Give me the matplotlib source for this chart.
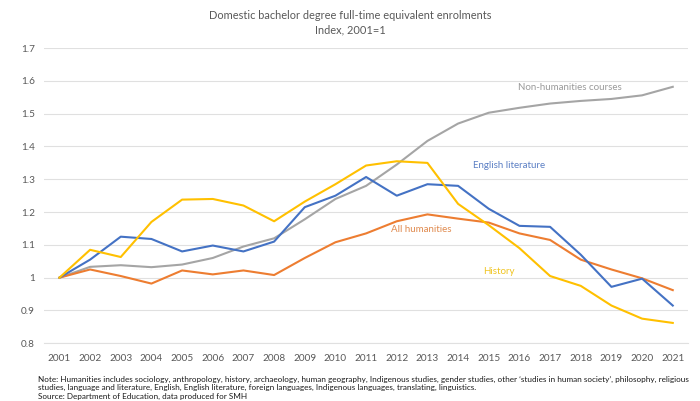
import matplotlib.pyplot as plt

years = list(range(2001, 2022))

english_lit = [1.0, 1.055, 1.125, 1.118, 1.08, 1.098, 1.08, 1.11, 1.215, 1.25, 1.307,
               1.25, 1.285, 1.28, 1.21, 1.158, 1.155, 1.07, 0.972, 0.997, 0.915]
history = [1.0, 1.085, 1.063, 1.17, 1.238, 1.24, 1.22, 1.172, 1.232, 1.285, 1.342,
           1.355, 1.35, 1.225, 1.16, 1.09, 1.005, 0.975, 0.915, 0.875, 0.862]
all_humanities = [1.0, 1.025, 1.005, 0.982, 1.022, 1.01, 1.022, 1.008, 1.06, 1.108, 1.135,
                  1.172, 1.193, 1.18, 1.168, 1.135, 1.115, 1.055, 1.025, 0.998, 0.962]
non_humanities = [1.0, 1.033, 1.038, 1.032, 1.04, 1.06, 1.095, 1.12, 1.178, 1.24, 1.28,
                  1.345, 1.417, 1.47, 1.503, 1.518, 1.531, 1.539, 1.545, 1.556, 1.582]

yticks = [0.8, 0.9, 1.0, 1.1, 1.2, 1.3, 1.4, 1.5, 1.6, 1.7]
ytick_labels = ["0.8", "0.9", "1", "1.1", "1.2", "1.3", "1.4", "1.5", "1.6", "1.7"]

blue = "#4472C4"
orange = "#ED7D31"
grey = "#A5A5A5"
gold = "#FFC000"

plt.rcParams['font.family'] = ['Lato', 'DejaVu Sans']

fig = plt.figure(figsize=(7, 4.01), dpi=100)
ax = fig.add_axes([0.063, 0.144, 0.92, 0.736])

ax.plot(years, non_humanities, color=grey, lw=1.5)
ax.plot(years, all_humanities, color=orange, lw=1.5)
ax.plot(years, english_lit, color=blue, lw=1.5)
ax.plot(years, history, color=gold, lw=1.5)

ax.set_xlim(2000.5, 2021.5)
ax.set_ylim(0.8, 1.7)
ax.set_yticks(yticks)
ax.set_yticklabels(ytick_labels)
ax.set_xticks(years)
ax.set_xticklabels([str(y) for y in years])
ax.grid(axis='y', color='#E0E0E0', lw=0.8)
ax.set_axisbelow(True)
for s in ['top', 'right', 'left']:
    ax.spines[s].set_visible(False)
ax.spines['bottom'].set_color('#E0E0E0')
ax.tick_params(length=0, labelsize=7.2, colors='#595959', pad=8)
ax.tick_params(axis='y', pad=6.5)

# series labels
ax.text(2017.65, 1.579, "Non-humanities courses", color='#9A9A9A', fontsize=7, ha='center', va='center')
ax.text(2015.66, 1.341, "English literature", color='#5B7FC4', fontsize=7, ha='center', va='center')
ax.text(2012.79, 1.148, "All humanities", color='#E08A4E', fontsize=7, ha='center', va='center')
ax.text(2015.33, 1.02, "History", color='#F0C420', fontsize=7, ha='center', va='center')

fig.text(0.5, 0.962, "Domestic bachelor degree full-time equivalent enrolments",
         ha='center', va='center', fontsize=7.9, color='#595959')
fig.text(0.5, 0.925, "Index, 2001=1", ha='center', va='center', fontsize=7.9, color='#595959')

note = ("Note: Humanities includes sociology, anthropology, history, archaeology, human geography, Indigenous studies, gender studies, other \u2018studies in human society\u2019, philosophy, religious\n"
        "studies, language and literature, English, English literature, foreign languages, Indigenous languages, translating, linguistics.\n"
        "Source: Department of Education, data produced for SMH")
fig.text(0.054, 0.003, note, ha='left', va='bottom', fontsize=5.85, color='#1A1A1A', linespacing=1.22)

fig.savefig("out.png", dpi=100)
